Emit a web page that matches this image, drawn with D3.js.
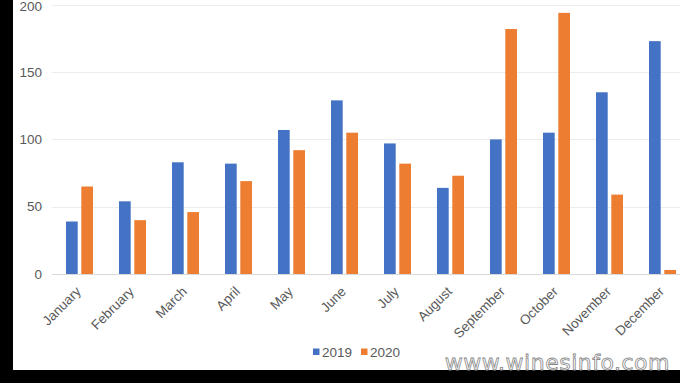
<!DOCTYPE html>
<html>
<head>
<meta charset="utf-8">
<script src="https://cdn.jsdelivr.net/npm/d3@7"></script>
<style>
  body { margin: 0; background: #000; }
  svg { display: block; }
</style>
</head>
<body>
<script>
// Chart data
const months = ["January", "February", "March", "April", "May", "June",
  "July", "August", "September", "October", "November", "December"];
const seriesNames = ["2019", "2020"];
const values2019 = [39, 54, 83, 82, 107, 129, 97, 64, 100, 105, 135, 173];
const values2020 = [65, 40, 46, 69, 92, 105, 82, 73, 182, 194, 59, 3];
const yTicks = [0, 50, 100, 150, 200];
const colors = ["#4472c4", "#ed7d31"];

const w = 680, h = 383;
const font = "'Liberation Sans', Arial, sans-serif";

const svg = d3.select("body").append("svg")
  .attr("width", w)
  .attr("height", h);

// black frame left and bottom
svg.append("rect").attr("width", w).attr("height", h).attr("fill", "#000");
svg.append("rect").attr("x", 13).attr("y", 0)
  .attr("width", w - 13).attr("height", 370).attr("fill", "#fff");

const x = d3.scaleBand().domain(months).range([53, 689]);
const y = d3.scaleLinear().domain([0, 200]).range([274, 4.8]);

// gridlines
svg.append("g").selectAll("line")
  .data(yTicks)
  .enter().append("line")
  .attr("x1", 52).attr("x2", w)
  .attr("y1", d => Math.round(y(d)) + 0.5)
  .attr("y2", d => Math.round(y(d)) + 0.5)
  .attr("stroke", d => d === 0 ? "#d9d9d9" : "#ececec")
  .attr("stroke-width", 1);

// y labels (top one nudged so it stays inside the frame)
svg.append("g").selectAll("text")
  .data(yTicks)
  .enter().append("text")
  .attr("x", 42)
  .attr("y", d => Math.max(y(d), 6.5))
  .attr("dy", "0.35em")
  .attr("text-anchor", "end")
  .attr("font-family", font)
  .attr("font-size", 13.5)
  .attr("fill", "#595959")
  .text(d => d);

// bars
const barW = 11.7, gap = 3.6;
const series = [values2019, values2020];
series.forEach((vals, i) => {
  svg.append("g").selectAll("rect")
    .data(vals)
    .enter().append("rect")
    .attr("x", (d, j) => x(months[j]) + x.bandwidth() / 2 - barW - gap / 2 + i * (barW + gap))
    .attr("y", d => y(d))
    .attr("width", barW)
    .attr("height", d => y(0) - y(d))
    .attr("fill", colors[i]);
});

// x labels rotated
svg.append("g").selectAll("text")
  .data(months)
  .enter().append("text")
  .attr("transform", d => `translate(${x(d) + x.bandwidth() / 2 - 1},${289}) rotate(-45)`)
  .attr("text-anchor", "end")
  .attr("dy", "0.35em")
  .attr("font-family", font)
  .attr("font-size", 13.5)
  .attr("fill", "#595959")
  .text(d => d);

// legend
const legend = svg.append("g").attr("transform", "translate(313,352)");
seriesNames.forEach((name, i) => {
  const g = legend.append("g").attr("transform", `translate(${i * 48},0)`);
  g.append("rect").attr("x", 0).attr("y", -3.5).attr("width", 6.5).attr("height", 6.5)
    .attr("fill", colors[i]);
  g.append("text").attr("x", 9).attr("y", 0).attr("dy", "0.36em")
    .attr("font-family", font)
    .attr("font-size", 13.5)
    .attr("fill", "#595959")
    .text(name);
});

// watermark
svg.append("text")
  .attr("x", 670).attr("y", 370)
  .attr("text-anchor", "end")
  .attr("font-family", "DejaVu Sans, sans-serif")
  .attr("font-size", 22)
  .attr("letter-spacing", 0.5)
  .attr("fill", "#fff")
  .attr("stroke", "#888")
  .attr("stroke-width", 0.8)
  .text("www.winesinfo.com");
</script>
</body>
</html>
